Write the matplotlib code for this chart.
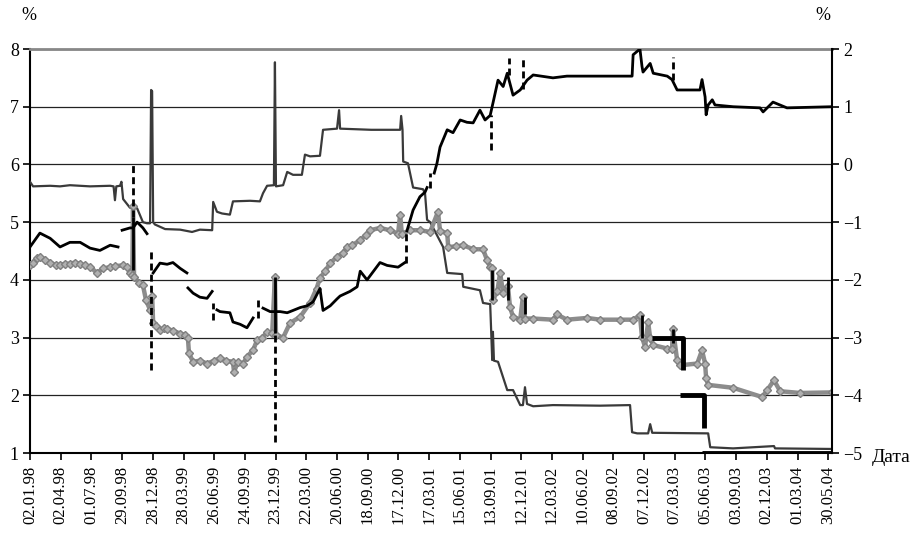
import numpy as np
import matplotlib
matplotlib.use('Agg')
import matplotlib.pyplot as plt

plt.rcParams['font.family'] = ['Liberation Serif', 'DejaVu Serif']

nan = np.nan

# x = days since 02.01.98
tick_labels = ['02.01.98', '02.04.98', '01.07.98', '29.09.98', '28.12.98', '28.03.99',
               '26.06.99', '24.09.99', '23.12.99', '22.03.00', '20.06.00', '18.09.00',
               '17.12.00', '17.03.01', '15.06.01', '13.09.01', '12.12.01', '12.03.02',
               '10.06.02', '08.09.02', '07.12.02', '07.03.03', '05.06.03', '03.09.03',
               '02.12.03', '01.03.04', '30.05.04']
tick_days = [90 * i for i in range(len(tick_labels))]

# dark gray series (left axis, %)
a_days = [0, 9, 59, 88, 117, 176, 235, 245, 249, 253, 264, 268, 273, 293, 314, 331, 343, 352,
          355, 358, 361, 366, 396, 440, 475, 498, 534, 537, 548, 563, 586, 595, 645, 674, 683,
          695, 715, 718, 721, 742, 754, 771, 797, 806, 821, 850, 859, 900, 906, 909, 1000, 1085,
          1088, 1092, 1094, 1108, 1123, 1152, 1158, 1164, 1173, 1211, 1223, 1267, 1270, 1319,
          1328, 1349, 1355, 1357, 1360, 1372, 1399, 1416, 1437, 1445, 1451, 1457, 1475, 1533,
          1671, 1759, 1765, 1780, 1812, 1818, 1824, 1988, 1994, 2061, 2181, 2184, 2351]
a_vals = [5.70, 5.62, 5.63, 5.62, 5.64, 5.62, 5.63, 5.62, 5.38, 5.62, 5.63, 5.70, 5.40, 5.25,
          5.24, 5.00, 4.98, 4.98, 7.29, 7.27, 5.00, 4.96, 4.88, 4.87, 4.83, 4.87, 4.86, 5.35,
          5.18, 5.15, 5.13, 5.36, 5.37, 5.36, 5.50, 5.63, 5.64, 7.77, 5.62, 5.64, 5.87, 5.82,
          5.82, 6.17, 6.14, 6.15, 6.60, 6.62, 6.94, 6.62, 6.60, 6.60, 6.84, 6.60, 6.05, 6.02,
          5.60, 5.57, 5.50, 5.04, 5.00, 4.57, 4.12, 4.10, 3.88, 3.82, 3.60, 3.58, 2.61, 3.10,
          2.60, 2.58, 2.09, 2.09, 1.83, 1.83, 2.14, 1.85, 1.81, 1.83, 1.82, 1.83, 1.36, 1.34,
          1.34, 1.50, 1.35, 1.34, 1.10, 1.08, 1.12, 1.08, 1.07]

# black series (left axis, %), nan = gap
b_days = [0, 29, 59, 88, 117, 147, 176, 205, 235, 258, nan,
          270, 293, 302, 314, 331, 343, nan,
          361, 381, 402, 419, 440, 460, nan,
          463, 478, 498, 519, 534, nan,
          548, 557, 586, 595, 616, 636, 654, nan,
          683, 704, 718, 733, 754, 771, 792, 812, 830, 850, 859, 880, 900, 909, 938, 959, 968,
          988, 1026, 1047, 1079, 1099, nan,
          1105, 1123, 1143, 1158, 1164, nan,
          1185, 1193, 1202, 1223, 1240, 1261, 1281, 1299, 1319, 1334, 1349, 1357, 1372, 1387,
          1399, 1416, 1437, 1457, 1475, 1533, 1574, 1671, 1765, 1768, 1788, 1794, 1797, 1818,
          1827, 1868, 1882, 1897, 1964, 1970, 1979, 1982, 1988, 2000, 2008, 2061, 2140, 2149,
          2178, 2219, 2351]
b_vals = [4.57, 4.81, 4.72, 4.57, 4.65, 4.65, 4.55, 4.51, 4.60, 4.57, nan,
          4.86, 4.90, 4.90, 5.00, 4.90, 4.80, nan,
          4.12, 4.29, 4.27, 4.30, 4.20, 4.12, nan,
          3.86, 3.77, 3.70, 3.68, 3.80, nan,
          3.48, 3.45, 3.43, 3.27, 3.23, 3.17, 3.34, nan,
          3.51, 3.45, 3.45, 3.45, 3.43, 3.47, 3.52, 3.55, 3.62, 3.85, 3.47, 3.55, 3.67, 3.72,
          3.80, 3.88, 4.15, 4.00, 4.30, 4.25, 4.22, 4.30, nan,
          4.85, 5.21, 5.44, 5.52, 5.60, nan,
          5.85, 6.02, 6.30, 6.60, 6.55, 6.77, 6.73, 6.72, 6.94, 6.77, 6.85, 7.06, 7.46, 7.35,
          7.58, 7.20, 7.29, 7.46, 7.55, 7.50, 7.53, 7.53, 7.53, 7.90, 8.00, 7.70, 7.60, 7.75,
          7.58, 7.53, 7.47, 7.29, 7.29, 7.47, 7.17, 6.86, 7.03, 7.12, 7.03, 7.00, 6.98, 6.91,
          7.08, 6.98, 7.00]

# dashed spikes of the black series
b_dash_days = [302, 355, 537, 668, 718, 1102, 1173, 1352, 1404, 1445, 1885]
b_dash_lo = [5.09, 2.44, 3.30, 3.34, 1.19, 4.30, 5.60, 6.25, 7.55, 7.30, 7.47]
b_dash_hi = [6.02, 4.50, 3.60, 3.65, 3.08, 4.85, 5.85, 6.85, 7.84, 7.86, 7.86]
# solid vertical strokes
b_vert_days = [302, 718, 1355, 1401, 1451, 1794, 1885]
b_vert_lo = [4.17, 3.08, 3.65, 3.65, 3.40, 3.00, 2.90]
b_vert_hi = [5.09, 4.05, 4.17, 4.05, 3.71, 3.39, 3.14]

# gray series with diamond markers (left axis, %)
c_days = [0, 9, 20, 29, 45, 59, 75, 88, 103, 117, 132, 147, 160, 176, 196, 215, 235, 250, 273,
          285, 293, 300, 302, 305, 320, 331, 340, 352, 358, 361, 370, 381, 392, 402, 419, 440,
          455, 463, 466, 478, 498, 519, 540, 557, 575, 595, 598, 610, 625, 636, 654, 666, 680,
          695, 710, 718, 721, 742, 762, 792, 821, 840, 850, 865, 880, 900, 918, 929, 945, 968,
          985, 997, 1026, 1055, 1079, 1085, 1090, 1114, 1143, 1173, 1196, 1202, 1223, 1226,
          1250, 1270, 1299, 1328, 1340, 1349, 1355, 1357, 1370, 1378, 1387, 1401, 1407, 1416,
          1437, 1445, 1450, 1475, 1533, 1545, 1574, 1633, 1671, 1730, 1768, 1788, 1794, 1803,
          1812, 1818, 1827, 1868, 1882, 1885, 1897, 1906, 1956, 1970, 1979, 1982, 1988, 2061,
          2146, 2161, 2181, 2199, 2258, 2351]
c_vals = [4.26, 4.30, 4.38, 4.40, 4.35, 4.30, 4.26, 4.26, 4.28, 4.28, 4.30, 4.28, 4.25, 4.23,
          4.12, 4.20, 4.22, 4.24, 4.25, 4.22, 4.12, 4.08, 5.28, 4.05, 3.95, 3.91, 3.65, 3.48,
          3.72, 3.25, 3.20, 3.13, 3.16, 3.15, 3.12, 3.07, 3.05, 2.99, 2.73, 2.58, 2.60, 2.55,
          2.60, 2.64, 2.60, 2.58, 2.41, 2.58, 2.55, 2.67, 2.78, 2.96, 3.00, 3.09, 3.08, 4.05,
          3.05, 3.00, 3.25, 3.36, 3.60, 3.85, 4.03, 4.15, 4.29, 4.40, 4.47, 4.57, 4.60, 4.69,
          4.78, 4.86, 4.90, 4.86, 4.80, 5.13, 4.80, 4.86, 4.86, 4.83, 5.18, 4.85, 4.81, 4.57,
          4.58, 4.60, 4.53, 4.53, 4.34, 4.22, 4.20, 3.65, 3.80, 4.12, 3.77, 3.90, 3.53, 3.36,
          3.31, 3.71, 3.33, 3.33, 3.31, 3.40, 3.31, 3.34, 3.31, 3.31, 3.31, 3.39, 3.01, 2.84,
          3.27, 2.99, 2.87, 2.81, 2.80, 3.14, 2.61, 2.52, 2.55, 2.78, 2.55, 2.30, 2.18, 2.13,
          1.97, 2.09, 2.26, 2.07, 2.04, 2.05]

# thick black steps (right axis, %)
d_days = [1824, 1915, 1915, nan, 1906, 1976, 1976, nan, 1970, 2351]
d_vals = [-3.0, -3.0, -3.56, nan, -4.0, -4.0, -4.57, nan, -5.0, -5.0]


fig = plt.figure(figsize=(9.21, 5.36), dpi=100)
ax = fig.add_axes([30 / 921, 83 / 536, 802 / 921, 404 / 536])

ax.plot(a_days, a_vals, color='#3a3a3a', lw=1.6, zorder=3)
ax.plot(c_days, c_vals, color='#8c8c8c', lw=3.2, marker='D', ms=4.5,
        mfc='#b0b0b0', mec='#808080', mew=1.0, zorder=4)
ax.plot(b_days, b_vals, color='black', lw=2.0, zorder=5)
ax.vlines(b_dash_days, b_dash_lo, b_dash_hi, colors='black', lw=2.0, linestyles=(0, (2.5, 1.5)), zorder=5)
ax.vlines(b_vert_days, b_vert_lo, b_vert_hi, colors='black', lw=2.0, zorder=5)

ax.set_xlim(0, 2351)
ax.set_ylim(1, 8)
ax.set_yticks(range(1, 9))
ax.set_xticks(tick_days)
ax.set_xticklabels(tick_labels, rotation=90, fontsize=12)
ax.tick_params(axis='y', labelsize=13, direction='out', length=5, width=1.2, pad=3)
ax.tick_params(axis='x', direction='out', length=5, width=1.2, pad=4)
ax.yaxis.grid(True, color='#222222', lw=0.9)
ax.set_axisbelow(True)
for s in ['left', 'bottom']:
    ax.spines[s].set_linewidth(1.5)
ax.spines['top'].set_color('#888888')
ax.spines['top'].set_linewidth(2)
ax.spines['right'].set_visible(False)

ax2 = ax.twinx()
ax2.plot(d_days, d_vals, color='black', lw=3.5, solid_capstyle='butt', zorder=6)
ax2.set_ylim(-5, 2)
ax2.set_yticks(range(-5, 3))
ax2.tick_params(axis='y', labelsize=13, direction='out', length=5, width=1.2, pad=3)
ax2.spines['right'].set_linewidth(1.5)
for s in ['top', 'left', 'bottom']:
    ax2.spines[s].set_visible(False)

fig.text(29 / 921, 1 - 15 / 536, '%', ha='center', va='center', fontsize=13)
fig.text(823 / 921, 1 - 15 / 536, '%', ha='center', va='center', fontsize=13)
fig.text(872 / 921, 1 - 457 / 536, 'Дата', ha='left', va='center', fontsize=14)

fig.savefig('out.png', dpi=100)
